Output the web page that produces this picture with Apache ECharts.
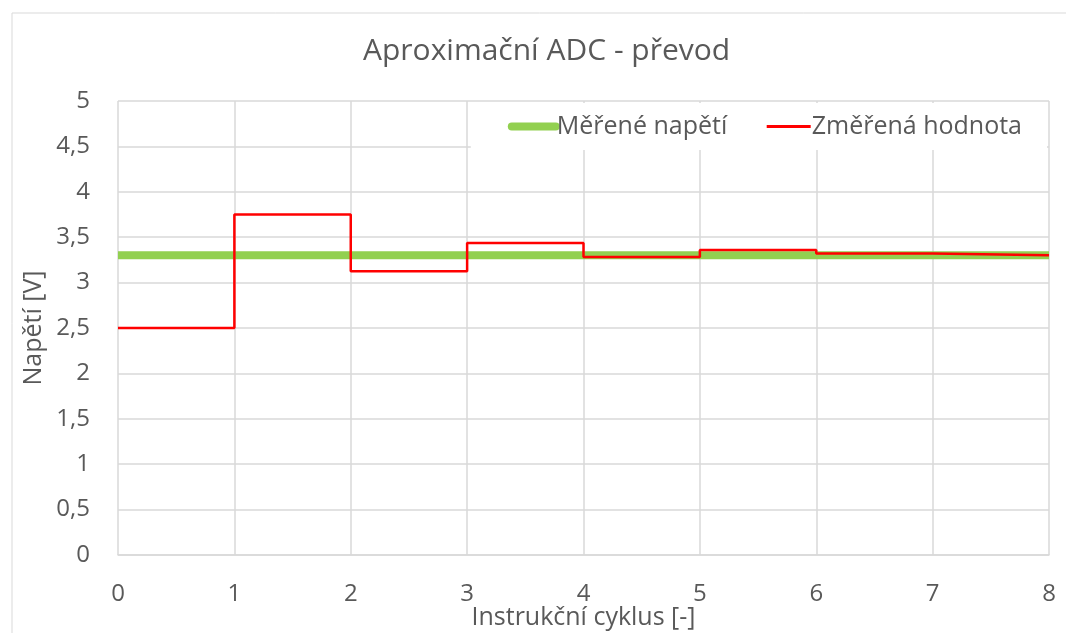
<!DOCTYPE html>
<html>
<head>
<meta charset="utf-8">
<script src="https://cdn.jsdelivr.net/npm/echarts@6/dist/echarts.min.js"></script>
<style>html,body{margin:0;padding:0;background:#fff}#c{width:1066px;height:633px}</style>
</head>
<body>
<div id="c"></div>
<script>
// data
var cycles = [0, 1, 2, 3, 4, 5, 6, 7, 8];
var measuredValues = [3.3, 3.3, 3.3, 3.3, 3.3, 3.3, 3.3, 3.3, 3.3];
var convertedValues = [2.5, 3.75, 3.125, 3.4375, 3.28125, 3.359375, 3.3203125, 3.30078125, 3.30078125];
var seriesNames = ['Měřené napětí', 'Změřená hodnota'];
var titleText = 'Aproximační ADC - převod';
var xAxisName = 'Instrukční cyklus [-]';
var yAxisName = 'Napětí [V]';

var txt = '#595959';
var font = 'Open Sans';
var chart = echarts.init(document.getElementById('c'), null, {renderer: 'canvas'});
chart.setOption({
  animation: false,
  backgroundColor: '#fff',
  textStyle: {fontFamily: font},
  graphic: [{
    type: 'rect', shape: {x: 12, y: 13, width: 1060, height: 640}, z: -1,
    style: {fill: 'none', stroke: '#d9d9d9', lineWidth: 1}
  }],
  title: {
    text: titleText, left: 358, top: 31, padding: 5,
    textStyle: {color: txt, fontSize: 30, fontWeight: 'normal', fontFamily: font}
  },
  legend: {
    right: 19, top: 103,
    backgroundColor: '#fff',
    padding: [11, 25, 11, 37],
    itemWidth: 44, itemHeight: 16, itemGap: 38,
    textStyle: {color: txt, fontSize: 25, fontFamily: font, padding: [0, 0, 0, -4]},
    data: [
      {name: seriesNames[0], lineStyle: {width: 8, cap: 'round', color: '#92d050'}, itemStyle: {opacity: 0}},
      {name: seriesNames[1], lineStyle: {width: 3, color: '#ff0000'}, itemStyle: {opacity: 0}}
    ]
  },
  grid: {left: 118, right: 17, top: 101, bottom: 78, containLabel: false, outerBoundsMode: 'none'},
  xAxis: {
    type: 'value', min: 0, max: 8, interval: 1,
    name: xAxisName, nameLocation: 'middle', nameGap: 50, nameMoveOverlap: false,
    nameTextStyle: {color: txt, fontSize: 25, fontFamily: font},
    axisLine: {show: true, lineStyle: {color: '#d9d9d9', width: 1.5}},
    axisTick: {show: false},
    axisLabel: {color: txt, fontSize: 24, fontFamily: font, margin: 27},
    splitLine: {show: true, lineStyle: {color: '#d9d9d9', width: 1.5}}
  },
  yAxis: {
    type: 'value', min: 0, max: 5, interval: 0.5,
    name: yAxisName, nameLocation: 'middle', nameGap: 72, nameRotate: 90, nameMoveOverlap: false,
    nameTextStyle: {color: txt, fontSize: 25, fontFamily: font},
    axisLine: {show: false},
    axisTick: {show: false},
    axisLabel: {color: txt, fontSize: 24, fontFamily: font, margin: 28,
      formatter: function (v) { return String(v).replace('.', ','); }},
    splitLine: {show: true, lineStyle: {color: '#d9d9d9', width: 1.5}}
  },
  series: [
    {
      name: seriesNames[0], type: 'line', showSymbol: false, symbol: 'none',
      lineStyle: {color: '#92d050', width: 8}, itemStyle: {color: '#92d050'},
      data: cycles.map(function (c, i) { return [c, measuredValues[i]]; }), z: 2
    },
    {
      name: seriesNames[1], type: 'line', step: 'end', showSymbol: false, symbol: 'none',
      lineStyle: {color: '#ff0000', width: 2.5}, itemStyle: {color: '#ff0000'},
      data: cycles.map(function (c, i) { return [c, convertedValues[i]]; }), z: 3
    }
  ]
});
</script>
</body>
</html>
